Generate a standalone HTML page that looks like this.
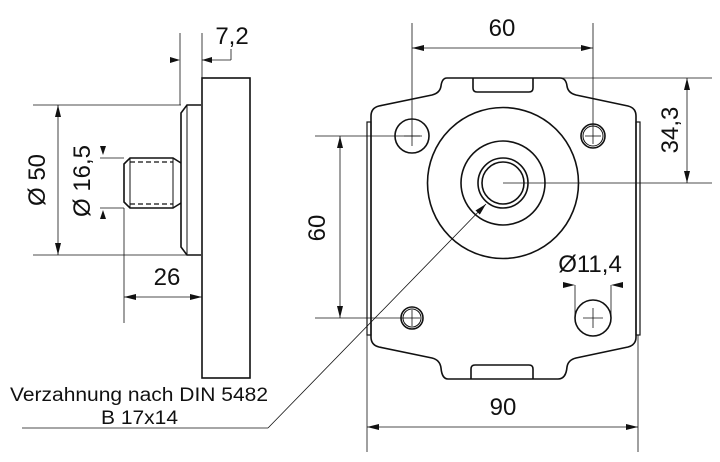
<!DOCTYPE html>
<html><head><meta charset="utf-8"><style>
html,body{margin:0;padding:0;background:#fff}
svg{display:block}
text{font-family:"Liberation Sans",sans-serif;fill:#111}
</style></head><body>
<svg width="720" height="462" viewBox="0 0 720 462" xmlns="http://www.w3.org/2000/svg">
<defs>
<marker id="a" viewBox="0 0 12 6" refX="12" refY="3" markerWidth="12" markerHeight="6" orient="auto-start-reverse" markerUnits="userSpaceOnUse"><path d="M0,0 L12,3 L0,6 z" fill="#111"/></marker>
</defs>
<g fill="none" stroke="#111">
<rect x="202" y="78" width="48" height="300" stroke-width="1.6"/>
<path d="M201,105 L187,105 L181,113 L181,247 L187,255 L201,255" stroke-width="1.6"/>
<line x1="187" y1="105" x2="187" y2="255" stroke-width="1"/>
<path d="M181,163 L173,158 L130,158 L124,164 L124,202 L130,208 L173,208 L181,203" stroke-width="1.6"/>
<line x1="130" y1="158" x2="130" y2="208" stroke-width="1"/>
<line x1="173" y1="158" x2="173" y2="208" stroke-width="1"/>
<line x1="130" y1="162" x2="173" y2="162" stroke-width="1.3" stroke-dasharray="5,3"/>
<line x1="130" y1="204" x2="173" y2="204" stroke-width="1.3" stroke-dasharray="5,3"/>
<g stroke-width="0.8">
<line x1="33" y1="105" x2="181" y2="105"/>
<line x1="33" y1="255" x2="187" y2="255"/>
<line x1="58" y1="105" x2="58" y2="255" marker-start="url(#a)" marker-end="url(#a)"/>
<line x1="100" y1="158" x2="124" y2="158"/>
<line x1="100" y1="208" x2="124" y2="208"/>
<line x1="124" y1="208" x2="124" y2="323"/>
<line x1="124" y1="297" x2="202" y2="297" marker-start="url(#a)" marker-end="url(#a)"/>
<line x1="180" y1="33" x2="180" y2="105"/>
<line x1="202" y1="33" x2="202" y2="78"/>
<line x1="202" y1="60" x2="231" y2="60"/>
<line x1="231" y1="60" x2="231" y2="49"/>
<line x1="22" y1="428" x2="268" y2="428"/>
<line x1="268" y1="428" x2="486" y2="204" marker-end="url(#a)"/>
</g>
<path d="M100,146 L106,146 L103,155 z M100,219 L106,219 L103,210 z M170,57 L180,60 L170,63 z M212,57 L202,60 L212,63 z" fill="#111" stroke="none"/>
<path d="M447,78 L560,78 Q566,78 567,86 Q568,93 576,95 L628,106 Q636,108 636,116 L636,337 Q636,345 628,347 L576,358 Q568,360 567,367 Q566,379 558,379 L448,379 Q442,379 441,368 Q440,360 432,358 L379,347 Q371,345 371,337 L371,116 Q371,108 379,106 L432,95 Q440,93 441,86 Q442,78 447,78 z" stroke-width="1.6"/>
<path d="M473,78 L473,88 Q473,92 477,92 L529,92 Q533,92 533,88 L533,78" stroke-width="1.6"/>
<path d="M471,379 L471,369 Q471,365 475,365 L529,365 Q533,365 533,369 L533,379" stroke-width="1.6"/>
<rect x="367" y="122" width="4" height="213" stroke-width="1.2"/>
<rect x="636" y="122" width="4" height="213" stroke-width="1.2"/>
<circle cx="503" cy="183" r="75.5" stroke-width="1.6"/>
<circle cx="503" cy="183" r="42" stroke-width="1.6"/>
<circle cx="503" cy="183" r="25" stroke-width="1.6"/>
<circle cx="503" cy="183" r="21" stroke-width="1.6"/>
<circle cx="412" cy="136" r="17" stroke-width="1.6"/>
<circle cx="593" cy="136" r="12" stroke-width="1.6"/>
<circle cx="593" cy="136" r="10" stroke-width="1"/>
<circle cx="412" cy="318" r="11" stroke-width="1.6"/>
<circle cx="412" cy="318" r="9" stroke-width="1"/>
<circle cx="593" cy="318" r="18" stroke-width="1.6"/>
<g stroke-width="0.8">
<line x1="404" y1="136" x2="422" y2="136"/>
<line x1="585" y1="136" x2="601" y2="136"/>
<line x1="404" y1="318" x2="420" y2="318"/>
<line x1="412" y1="310" x2="412" y2="326"/>
<line x1="583" y1="318" x2="603" y2="318"/><line x1="593" y1="308" x2="593" y2="328"/>
<line x1="412" y1="23" x2="412" y2="146"/>
<line x1="593" y1="23" x2="593" y2="144"/>
<line x1="412" y1="48" x2="593" y2="48" marker-start="url(#a)" marker-end="url(#a)"/>
<line x1="560" y1="78" x2="712" y2="78"/>
<line x1="503" y1="183" x2="712" y2="183"/>
<line x1="687" y1="78" x2="687" y2="183" marker-start="url(#a)" marker-end="url(#a)"/>
<line x1="367" y1="335" x2="367" y2="452"/>
<line x1="638" y1="335" x2="638" y2="452"/>
<line x1="367" y1="427" x2="638" y2="427" marker-start="url(#a)" marker-end="url(#a)"/>
<line x1="575" y1="285" x2="575" y2="318"/>
<line x1="611" y1="285" x2="611" y2="318"/>
<line x1="315" y1="136" x2="420" y2="136"/>
<line x1="315" y1="318" x2="404" y2="318"/>
<line x1="340" y1="136" x2="340" y2="318" marker-start="url(#a)" marker-end="url(#a)"/>
</g>
<path d="M563,282 L575,285 L563,288 z M623,282 L611,285 L623,288 z" fill="#111" stroke="none"/>
</g>
<g font-size="24">
<text x="232" y="44" text-anchor="middle">7,2</text>
<text x="167" y="285" text-anchor="middle">26</text>
<text transform="translate(45,180) rotate(-90)" text-anchor="middle">Ø 50</text>
<text transform="translate(90,181) rotate(-90)" text-anchor="middle">Ø 16,5</text>
<text x="502" y="36" text-anchor="middle">60</text>
<text transform="translate(325,228) rotate(-90)" text-anchor="middle">60</text>
<text transform="translate(678,130) rotate(-90)" text-anchor="middle">34,3</text>
<text x="503" y="415" text-anchor="middle">90</text>
<text x="590" y="272" text-anchor="middle">Ø11,4</text>
</g>
<g font-size="19">
<text x="10" y="401" textLength="258" lengthAdjust="spacingAndGlyphs">Verzahnung nach DIN 5482</text>
<text x="101" y="424" textLength="77" lengthAdjust="spacingAndGlyphs">B 17x14</text>
</g>
</svg>
</body></html>
